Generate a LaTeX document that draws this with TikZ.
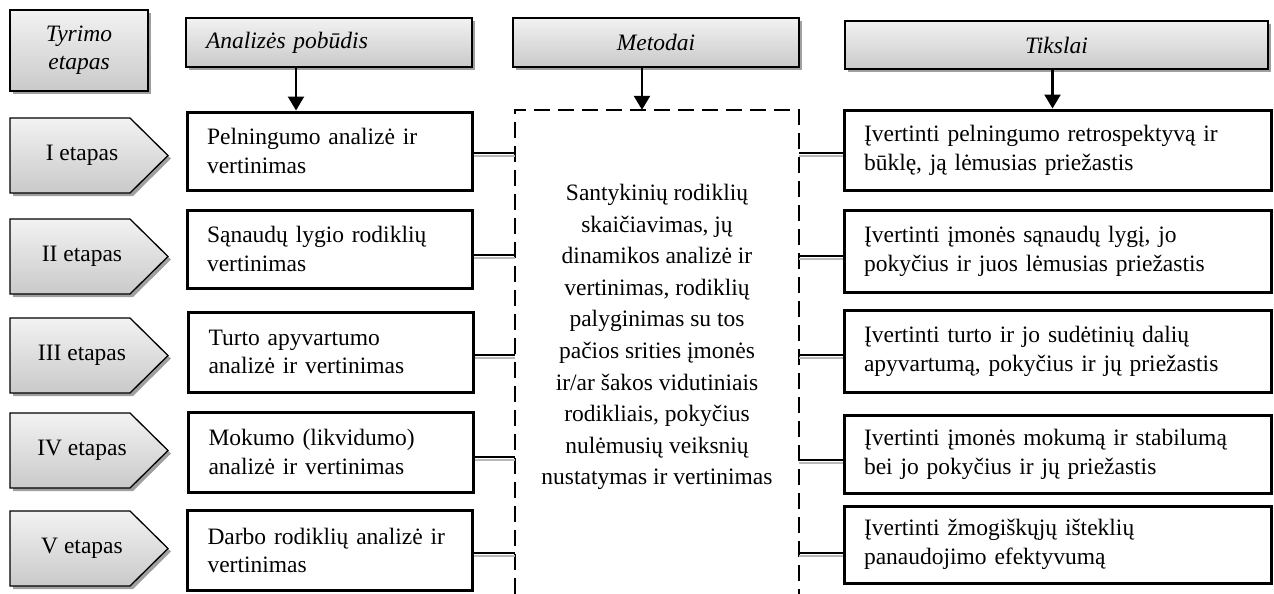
\documentclass[tikz,border=0pt]{standalone}
\usepackage{fontspec}
\setmainfont{Liberation Serif}
\usetikzlibrary{arrows.meta,shadows,calc}
\begin{document}
\begin{tikzpicture}[x=1pt,y=-1pt,
  shade/.style={top color=gray!10, bottom color=gray!42,
    drop shadow={shadow xshift=3pt, shadow yshift=-3pt, fill=gray!75, opacity=1}},
  hdr/.style={shade, draw=black, line width=1.6pt, inner sep=0pt, align=center,
    font=\fontsize{23.5}{28}\selectfont\itshape},
  etapfill/.style={shade, draw=black, line width=1.3pt},
  etxt/.style={inner sep=0pt, font=\fontsize{23.5}{28}\selectfont},
  abox/.style={draw=black, fill=white, line width=3pt, inner sep=0pt,
    minimum width=285pt, text width=245pt, align=left,
    font=\fontsize{23.5}{28.5}\selectfont},
  tbox/.style={draw=black, fill=white, line width=3pt, inner sep=0pt,
    minimum width=427pt, text width=387pt, align=left,
    font=\fontsize{23.5}{29}\selectfont},
  dbox/.style={draw=black, line width=2pt, dash pattern=on 16pt off 8pt},
  mtext/.style={inner sep=0pt, align=center, font=\fontsize{23.5}{31.6}\selectfont},
  arr/.style={draw=black, line width=2.5pt, -{Triangle[width=16pt,length=14pt]}},
  conn/.style={draw=black, line width=2pt,
    preaction={draw=gray!55, line width=2pt, transform canvas={yshift=-3pt}}},
  etapa/.pic={\path[etapfill] (-72,-37.5) -- (48,-37.5) -- (86,0) -- (48,37.5) -- (-72,37.5) -- cycle;}
]
\useasboundingbox (0,0) rectangle (1274,594);

% headers
\node[hdr, minimum width=138pt, minimum height=81pt] (ty) at (79,50.5) {Tyrimo\\etapas};
\node[hdr, minimum width=286pt, minimum height=49pt, text width=246pt, align=left] (h1) at (329,42.5) {Analizės pobūdis};
\node[hdr, minimum width=286pt, minimum height=49pt] (h2) at (656,42.5) {Metodai};
\node[hdr, minimum width=423pt, minimum height=48pt] (h3) at (1056.5,45) {Tikslai};

% stages
\pic at (82,155.5) {etapa};
\node[etxt] (e1) at (82,155.5) {I etapas};
\pic at (82,256.5) {etapa};
\node[etxt] (e2) at (82,256.5) {II etapas};
\pic at (82,355.5) {etapa};
\node[etxt] (e3) at (82,355.5) {III etapas};
\pic at (82,450.5) {etapa};
\node[etxt] (e4) at (82,450.5) {IV etapas};
\pic at (82,548.5) {etapa};
\node[etxt] (e5) at (82,548.5) {V etapas};

% analysis boxes
\node[abox, minimum height=78pt] (a1) at (329.5,151) {Pelningumo analizė ir\\vertinimas};
\node[abox, minimum height=78pt] (a2) at (329.5,249) {Sąnaudų lygio rodiklių\\vertinimas};
\node[abox, minimum height=80pt] (a3) at (331,352) {Turto apyvartumo\\analizė ir vertinimas};
\node[abox, minimum height=80pt] (a4) at (331,452) {Mokumo (likvidumo)\\analizė ir vertinimas};
\node[abox, minimum height=80pt] (a5) at (330,550.5) {Darbo rodiklių analizė ir\\vertinimas};

% methods (dashed, open at the bottom)
\node[minimum width=284pt, minimum height=484pt, inner sep=0pt] (m) at (657,352) {};
\draw[dbox] (m.south west) -- (m.north west) -- (m.north east) -- (m.south east);
\node[mtext] (mt) at (657,337) {Santykinių rodiklių\\skaičiavimas, jų\\dinamikos analizė ir\\vertinimas, rodiklių\\palyginimas su tos\\pačios srities įmonės\\ir/ar šakos vidutiniais\\rodikliais, pokyčius\\nulėmusių veiksnių\\nustatymas ir vertinimas};

% goals
\node[tbox, minimum height=80pt] (t1) at (1057.5,150) {Įvertinti pelningumo retrospektyvą ir\\būklę, ją lėmusias priežastis};
\node[tbox, minimum height=82pt] (t2) at (1057.5,251) {Įvertinti įmonės sąnaudų lygį, jo\\pokyčius ir juos lėmusias priežastis};
\node[tbox, minimum height=82pt] (t3) at (1057.5,351) {Įvertinti turto ir jo sudėtinių dalių\\apyvartumą, pokyčius ir jų priežastis};
\node[tbox, minimum height=78pt] (t4) at (1057.5,454) {Įvertinti įmonės mokumą ir stabilumą\\bei jo pokyčius ir jų priežastis};
\node[tbox, minimum height=77pt] (t5) at (1057.5,544.5) {Įvertinti žmogiškųjų išteklių\\panaudojimo efektyvumą};

% arrows from headers
\draw[arr] ([xshift=-33pt]h1.south) -- ([xshift=-33pt]h1.south |- a1.north);
\draw[arr] ([xshift=-14pt]h2.south) -- ([xshift=-14pt]h2.south |- m.north);
\draw[arr] ([xshift=-4pt]h3.south) -- ([xshift=-4pt]h3.south |- t1.north);

% connectors
\draw[conn] ([yshift=-2pt]a1.east) -- ([yshift=-2pt]a1.east -| m.west);
\draw[conn] ([yshift=-6pt]a2.east) -- ([yshift=-6pt]a2.east -| m.west);
\draw[conn] ([yshift=-3pt]a3.east) -- ([yshift=-3pt]a3.east -| m.west);
\draw[conn] ([yshift=-5pt]a4.east) -- ([yshift=-5pt]a4.east -| m.west);
\draw[conn] ([yshift=-2pt]a5.east) -- ([yshift=-2pt]a5.east -| m.west);
\draw[conn] ([yshift=-3pt]t1.west) -- ([yshift=-3pt]t1.west -| m.east);
\draw[conn] ([yshift=-5pt]t2.west) -- ([yshift=-5pt]t2.west -| m.east);
\draw[conn] ([yshift=-4pt]t3.west) -- ([yshift=-4pt]t3.west -| m.east);
\draw[conn] ([yshift=-6pt]t4.west) -- ([yshift=-6pt]t4.west -| m.east);
\draw[conn] ([yshift=-8pt]t5.west) -- ([yshift=-8pt]t5.west -| m.east);
\end{tikzpicture}
\end{document}
